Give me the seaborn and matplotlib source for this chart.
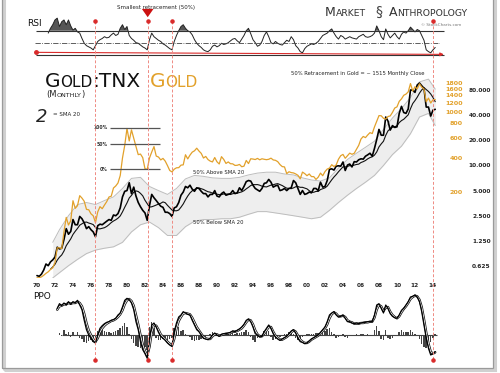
import numpy as np
import pandas as pd
import matplotlib
matplotlib.use('Agg')
import matplotlib.pyplot as plt
import seaborn as sns
from matplotlib.patches import Rectangle

nan = np.nan

# quarterly dates, 1970 Q1 .. 2014 Q2
quarters = np.arange(1970, 2014.5, 0.25)

# Gold:TNX ratio (quarterly)
ratio = [
    0.48, 0.47, 0.50, 0.56,  0.66, 0.63, 0.70, 0.74,  0.80, 1.05, 1.00, 1.02,
    1.30, 1.75, 1.50, 1.62,  2.25, 1.95, 1.95, 2.45,  2.30, 2.05, 1.75, 1.85,
    1.70, 1.60, 1.40, 1.90,  1.98, 1.95, 2.05, 2.15,  2.25, 2.20, 2.55, 2.50,
    2.65, 3.10, 4.20, 4.90,  5.00, 6.20, 4.60, 5.50,  4.30, 3.60, 3.20, 2.90,
    2.70, 2.20, 3.30, 4.50,  4.10, 3.80, 3.50, 3.25,  3.15, 2.75, 2.75, 2.65,
    2.45, 3.10, 3.20, 3.60,  4.40, 4.80, 5.60, 5.40,  5.80, 5.20, 4.90, 5.40,
    5.30, 4.90, 4.60, 4.60,  4.20, 4.50, 4.50, 5.00,  4.30, 4.20, 4.60, 4.80,
    4.40, 4.50, 4.60, 5.00,  4.60, 4.70, 5.40, 5.00,  5.60, 6.40, 6.60, 6.50,
    5.80, 5.30, 5.10, 4.90,  5.30, 6.10, 6.20, 6.80,  6.30, 5.50, 5.70, 5.80,
    5.00, 5.10, 5.30, 5.00,  5.30, 5.40, 6.60, 6.20,  5.30, 4.50, 5.00, 4.50,
    4.60, 4.80, 4.70, 5.30,  5.30, 5.00, 6.30, 5.50,  5.60, 6.60, 9.00, 9.10,
    8.80, 9.80, 9.90, 9.80,  11.0, 8.70, 10.1, 10.4,  9.60, 11.1, 11.0, 11.7,
    12.0, 11.9, 12.9, 13.4,  14.0, 12.9, 16.0, 20.5,  27.0, 23.0, 23.0, 38.0,
    34.0, 26.5, 30.0, 28.5,  29.0, 42.0, 51.0, 43.0,  42.0, 47.5, 80.0, 80.0,
    75.0, 92.0, 97.0, 90.0,  84.0, 50.0, 50.0, 39.0,  46.0, 47.0,
]

# gold monthly close, sampled quarterly
gold = [
    35.6, 35.6, 36.2, 37.4,  38.9, 40.1, 42.0, 43.5,  48.3, 65.0, 65.0, 64.0,
    90, 120, 103, 112,  168, 144, 152, 186,  177, 166, 141, 140,
    129, 124, 108, 134,  149, 143, 154, 165,  181, 184, 217, 226,
    240, 279, 397, 512,  720, 560, 700, 590,  500, 425, 430, 400,
    320, 316, 397, 448,  500, 413, 405, 382,  394, 373, 341, 309,
    300, 317, 326, 327,  344, 346, 424, 390,  421, 447, 459, 484,
    457, 436, 397, 410,  385, 373, 367, 401,  368, 352, 408, 386,
    356, 367, 354, 353,  342, 343, 349, 333,  337, 378, 355, 391,
    389, 385, 394, 383,  391, 387, 384, 387,  396, 382, 379, 369,
    348, 334, 332, 290,  301, 296, 294, 288,  280, 261, 299, 290,
    278, 288, 273, 273,  258, 270, 293, 278,  302, 318, 324, 347,
    334, 346, 388, 416,  427, 395, 416, 438,  428, 437, 473, 513,
    582, 613, 599, 632,  662, 650, 743, 834,  933, 930, 884, 869,
    916, 927, 996, 1087,  1113, 1244, 1307, 1405,  1439, 1506, 1780, 1531,
    1669, 1598, 1772, 1657,  1598, 1234, 1327, 1202,  1284, 1290,
]

rsi = [
    nan, nan, nan, nan,  nan, 66, 74, 80,  88, 91, 77, 85,
    88, 80, 88, 78,  71, 74, 68, 66,  57, 49, 45, 43,
    41, 38, 45, 52,  55, 57, 60, 58,  59, 63, 66, 62,
    64, 74, 80, 72,  77, 62, 57, 54,  50, 49, 46, 43,
    41, 38, 55, 66,  60, 57, 54, 52,  48, 46, 43, 40,
    38, 52, 62, 70,  77, 80, 74, 70,  68, 63, 55, 49,
    45, 42, 38, 36,  35, 38, 44, 46,  43, 45, 49, 47,
    48, 50, 53, 56,  57, 53, 50, 56,  62, 70, 74, 65,
    55, 50, 44, 46,  52, 62, 68, 60,  50, 48, 52, 49,
    47, 46, 50, 54,  52, 60, 55, 45,  41, 35, 33, 40,
    44, 46, 48, 47,  49, 52, 57, 62,  64, 66, 70, 73,
    66, 60, 56, 62,  60, 56, 58, 60,  58, 57, 56, 60,
    62, 64, 60, 59,  60, 62, 66, 78,  70, 60, 55, 73,
    64, 58, 62, 66,  60, 56, 64, 68,  66, 70, 76, 72,
    68, 72, 70, 62,  54, 38, 35, 33,  38, 42,
]

ppo = [
    nan, nan, nan, nan,  nan, nan, nan, nan,  nan, 40, 47, 44,
    48, 45, 50, 46,  50, 48, 52, 45,  38, 22, 8, 0,
    -5, -10, -12, 0,  10, 14, 17, 19,  20, 22, 23, 25,
    30, 33, 42, 52,  55, 53, 48, 38,  20, 8, -10, -22,
    -28, -35, -5, 15,  18, 12, 4, -2,  -5, -8, -12, -15,
    -17, 5, 18, 27,  30, 35, 33, 31,  30, 22, 15, 8,
    5, 0, -5, -6,  -7, -5, 0, 3,  0, -2, 1, 2,
    2, 3, 4, 6,  5, 7, 9, 12,  16, 22, 24, 20,
    12, 2, 0, -3,  -2, 5, 10, 15,  10, 2, -3, -6,
    -8, -6, -4, -2,  2, 6, 8, 3,  -5, -10, -11, -13,
    -12, -9, -6, -4,  -2, 0, 4, 8,  12, 20, 30, 33,
    35, 30, 27, 28,  30, 25, 20, 20,  18, 17, 18, 17,
    18, 19, 19, 20,  20, 20, 30, 45,  47, 40, 33, 45,
    40, 32, 28, 26,  25, 30, 37, 40,  45, 50, 57, 58,
    60, 57, 50, 35,  15, -5, -20, -30,  -28, -25,
]

ppo_signal = [
    nan, nan, nan, nan,  nan, nan, nan, nan,  nan, 38, 43, 44,
    46, 46, 48, 47,  48, 48, 50, 48,  43, 32, 18, 7,
    0, -6, -10, -5,  4, 10, 14, 17,  19, 21, 22, 24,
    27, 31, 37, 46,  52, 54, 51, 44,  30, 16, 0, -14,
    -24, -31, -18, 4,  14, 14, 8, 1,  -3, -6, -10, -13,
    -16, -6, 10, 21,  27, 32, 33, 32,  31, 26, 19, 12,
    7, 2, -3, -5,  -6, -6, -2, 1,  1, -1, 0, 1,
    2, 2, 3, 5,  5, 6, 8, 10,  14, 19, 23, 22,
    16, 7, 1, -2,  -2, 2, 7, 12,  12, 5, -1, -4,
    -7, -7, -5, -3,  0, 4, 7, 5,  -1, -7, -10, -12,
    -12, -10, -7, -5,  -3, -1, 2, 6,  10, 16, 25, 31,
    34, 32, 28, 28,  29, 27, 22, 20,  19, 17, 17, 17,
    18, 18, 19, 19,  20, 20, 26, 38,  45, 43, 36, 41,
    42, 35, 30, 27,  25, 28, 34, 39,  43, 48, 54, 57,
    59, 58, 53, 42,  24, 4, -13, -25,  -28, -26,
]

ppo_hist = [
    nan, nan, nan, nan,  nan, nan, nan, nan,  nan, nan, 3, -2,
    8, 2, 5, -3,  4, -2, 5, -4,  -6, -10, -12, -9,
    -8, -10, -4, 6,  8, 7, 6, 5,  4, 3, 4, 6,
    8, 10, 14, 18,  12, 2, -6, -12,  -16, -18, -20, -20,
    -18, -22, 12, 20,  10, -4, -8, -8,  -6, -5, -7, -6,
    -4, 10, 14, 12,  6, 8, 2, -2,  -3, -8, -9, -8,
    -7, -6, -6, -3,  -2, 1, 4, 3,  -2, -2, 2, 1,
    1, 2, 2, 3,  2, 3, 3, 4,  5, 8, 4, -3,
    -8, -10, -5, -3,  0, 6, 7, 6,  -3, -8, -6, -4,
    -3, 0, 2, 2,  4, 5, 2, -5,  -8, -6, -3, -1,
    1, 2, 2, 2,  3, 3, 4, 5,  6, 9, 10, 5,
    2, -4, -3, 0,  2, -3, -4, 0,  -1, 0, 1, 0,
    1, 1, 0, 1,  0, 0, 8, 14,  6, -6, -8, 8,
    -4, -6, -4, -2,  -1, 5, 7, 4,  5, 5, 8, 4,
    2, -2, -6, -14,  -18, -20, -18, -10,  -4, 2,
]

# envelope around the 20-month SMA
band_years = [1971.75] + [y + 0.5 for y in range(1972, 2014)] + [2014.25]
band_upper = [1.2, 1.7, 2.5, 3.4, 3.6, 3.4, 3.8, 4.2, 5.3, 7.0, 7.2, 5.6, 5.0, 4.5,
              5.3, 6.9, 7.6, 7.4, 7.1, 7.0, 7.0, 7.2, 7.7, 8.1, 8.3, 8.3, 7.9, 7.7,
              7.1, 6.7, 6.5, 7.1, 9.3, 11.8, 14.0, 16.5, 19.5, 27.0, 37.0, 48.0,
              65.0, 100.0, 108.0, 82.0]
band_lower = [0.45, 0.52, 0.63, 0.75, 0.88, 0.97, 1.02, 1.06, 1.2, 1.6, 1.95, 2.1,
              1.8, 1.45, 1.45, 1.85, 2.15, 2.25, 2.25, 2.3, 2.3, 2.4, 2.6, 2.8, 2.8,
              2.7, 2.6, 2.5, 2.4, 2.3, 2.4, 2.9, 3.6, 4.4, 5.3, 6.3, 7.6, 10.0, 13.5,
              17.0, 24.0, 38.0, 42.0, 30.0]

event_years = [1976.5, 1982.3, 1985.05, 2013.95]
retrace_labels = ['0%', '50%', '100%']
retrace_gold = [318, 525, 728]
rsi_trend_x = [1969.9, 2015.2]
rsi_trend_y = [33.8, 30.4]

ratio_ticks = [0.625, 1.25, 2.5, 5, 10, 20, 40, 80]
gold_ticks = [200, 400, 600, 800, 1000, 1200, 1400, 1600, 1800]
year_ticks = list(range(1970, 2015, 2))

GOLD = '#E2A12B'
RED = '#d92b2b'

# 20 month simple moving average ~ 7 quarters
sma = pd.Series(ratio).rolling(7).mean().values

sns.set_theme(style='white')
plt.rcParams['font.family'] = ['DejaVu Sans']

W, H = 500, 373
fig = plt.figure(figsize=(W / 100, H / 100), dpi=100)
renderer = fig.canvas.get_renderer()


def fx(px):
    return px / W


def fy(py):
    return 1 - py / H


XLIM = (1969.78, 2014.78)
L, WID = fx(35), 405 / W

ax_rsi = fig.add_axes([L, fy(60), WID, 48 / H])
ax = fig.add_axes([L, fy(278), WID, 210 / H])
ax_ppo = fig.add_axes([L, fy(362), WID, 72 / H])
ax_gold = ax.twinx()
ax_ov = fig.add_axes([L, 0, WID, 1])
ax_ov.set_xlim(XLIM)
ax_ov.set_ylim(H, 0)
ax_ov.axis('off')
ax_ov.set_zorder(5)

for a in (ax_rsi, ax, ax_ppo, ax_gold):
    a.set_xlim(XLIM)
    for s in a.spines.values():
        s.set_visible(False)
    a.tick_params(length=0)

# ---- RSI panel
rsi_arr = np.array(rsi, dtype=float)
ax_rsi.fill_between(quarters, rsi_arr, 70, where=np.nan_to_num(rsi_arr) > 70,
                    interpolate=True, color='#555555', lw=0)
sns.lineplot(x=quarters, y=rsi_arr, ax=ax_rsi, color='#222222', linewidth=0.7)
ax_rsi.hlines([30, 70], 1969.9, 2015.2, color='#333333', lw=0.8, clip_on=False)
ax_rsi.axhline(50, color='#444444', lw=0.6, ls='-.')
ax_rsi.annotate('', xy=(rsi_trend_x[1], rsi_trend_y[1]), xytext=(rsi_trend_x[0], rsi_trend_y[0]),
                arrowprops=dict(arrowstyle='-|>', color=RED, lw=0.8, mutation_scale=5,
                                shrinkA=0, shrinkB=0), annotation_clip=False)
ax_rsi.plot(rsi_trend_x[0], rsi_trend_y[0], 'o', color=RED, ms=2.5, clip_on=False)
ax_rsi.set_ylim(21, 101.3)
ax_rsi.set_xticks([])
ax_rsi.set_yticks([])
ax_rsi.set_ylabel('')

# ---- main panel: Gold:TNX
ax.fill_between(band_years, band_lower, band_upper, color='#eeeeee', lw=0)
sns.lineplot(x=band_years, y=band_upper, ax=ax, color='#bdbdbd', linewidth=0.7)
sns.lineplot(x=band_years, y=band_lower, ax=ax, color='#bdbdbd', linewidth=0.7)
sns.lineplot(x=quarters, y=sma, ax=ax, color='#111111', linewidth=0.8)
sns.lineplot(x=quarters, y=ratio, ax=ax, color='#000000', linewidth=1.2)
ax.set_yscale('log', base=2)
ax.set_ylim(0.449, 146.8)
ax.set_xlim(XLIM)
ax.yaxis.tick_right()
ax.set_yticks(ratio_ticks)
ax.set_yticklabels([f'{v:.3f}' for v in ratio_ticks])
ax.minorticks_off()
ax.tick_params(axis='y', labelsize=4.2, pad=36.5, length=0)
for lab in ax.get_yticklabels():
    lab.set_ha('right')
    lab.set_fontweight('bold')
ax.set_xticks(year_ticks)
ax.set_xticklabels([f'{y % 100:02d}' for y in year_ticks])
ax.tick_params(axis='x', labelsize=4.2, pad=3.5, length=0)
for lab in ax.get_xticklabels():
    lab.set_fontweight('bold')
ax.set_ylabel('')

sns.lineplot(x=quarters, y=gold, ax=ax_gold, color=GOLD, linewidth=0.9)
ax_gold.set_yscale('log')
ax_gold.set_ylim(35.4, 2435)
ax_gold.set_yticks(gold_ticks)
ax_gold.set_yticklabels([str(v) for v in gold_ticks])
ax_gold.minorticks_off()
ax_gold.tick_params(axis='y', labelsize=4.6, pad=16.5, length=0, labelcolor=GOLD)
for lab in ax_gold.get_yticklabels():
    lab.set_ha('right')
    lab.set_fontweight('bold')
ax_gold.set_ylabel('')
ax_gold.hlines(retrace_gold, 1978.1, 1983.7, color='#555555', lw=0.9)
for lvl, lab in zip(retrace_gold, retrace_labels):
    ax_gold.text(1977.9, lvl, lab, ha='right', va='center', fontsize=3.3,
                 fontweight='bold', color='#333333')

# ---- PPO panel
hist_arr = np.array(ppo_hist, dtype=float)
ax_ppo.bar(quarters, np.nan_to_num(hist_arr), width=0.17, color='#444444', lw=0)
ax_ppo.hlines(0, 1972.75, 2014.4, color='#444444', lw=0.8)
sns.lineplot(x=quarters, y=ppo_signal, ax=ax_ppo, color='#111111', linewidth=1.7)
sns.lineplot(x=quarters, y=ppo_signal, ax=ax_ppo, color='#ffffff', linewidth=0.6)
sns.lineplot(x=quarters, y=ppo, ax=ax_ppo, color='#000000', linewidth=0.9)
ax_ppo.set_ylim(-40.5, 67.5)
ax_ppo.set_xticks([])
ax_ppo.set_yticks([])
ax_ppo.set_ylabel('')

# ---- event lines across all panels
ax_ov.vlines(event_years, 21, 360, colors='#ef8a82', linestyles=(0, (3, 2)), lw=0.7)
ax_ov.scatter(event_years, [21] * len(event_years), s=5, color=RED, zorder=6)
ax_ov.scatter(event_years, [360] * len(event_years), s=5, color=RED, zorder=6)
ax_ov.annotate('', xy=(event_years[1], 20), xytext=(event_years[1], 11),
               arrowprops=dict(arrowstyle='simple,head_width=0.7,head_length=0.5,tail_width=0.35',
                               color='#cc1111', lw=0))


def small_caps(x, y, text, size, color, ratio_small=0.76):
    # capitals at full size, lower case drawn as smaller capitals
    runs = []
    for ch in text:
        big = not ch.islower()
        if runs and runs[-1][1] == big:
            runs[-1][0] += ch
        else:
            runs.append([ch, big])
    cur = x
    for chunk, big in runs:
        s = size if big else size * ratio_small
        t = fig.text(fx(cur), fy(y), chunk.upper(), fontsize=s, color=color,
                     va='baseline', ha='left')
        cur += t.get_window_extent(renderer).width


small_caps(45, 87, 'Gold:TNX', 14.5, '#111111')
small_caps(150, 87, 'Gold', 14.5, GOLD)
small_caps(46, 97, '(Monthly)', 6, '#222222')
small_caps(325, 16, 'Market', 9, '#333333', 0.74)
small_caps(389, 16, 'Anthropology', 9, '#333333', 0.74)
fig.text(fx(379), fy(16), '§', fontsize=10, color='#444444', ha='center', va='baseline')

fig.text(fx(27), fy(26), 'RSI', fontsize=6.5, color='#111111', va='baseline')
fig.text(fx(33), fy(299), 'PPO', fontsize=6.5, color='#111111', va='baseline')
fig.text(fx(156), fy(7), 'Smallest retracement (50%)', fontsize=4, color='#222222',
         ha='center', va='center')
fig.text(fx(441), fy(25), '© StockCharts.com', fontsize=3, color='#777777',
         ha='center', va='center')
fig.text(fx(358), fy(73), '50% Retracement in Gold = ~ 1515 Monthly Close', fontsize=3.8,
         color='#222222', ha='center', va='center')
fig.text(fx(193), fy(172), '50% Above SMA 20', fontsize=3.8, color='#222222', va='center')
fig.text(fx(193), fy(223), '50% Below SMA 20', fontsize=3.8, color='#222222', va='center')
fig.text(fx(53), fy(114.5), '= SMA 20', fontsize=4, color='#222222', va='center')
fig.text(fx(42), fy(117), '2', fontsize=13, color='#222222', style='italic',
         ha='center', va='center')

# frame with a soft shadow
fig.patches.append(Rectangle((fx(4), fy(370)), fx(491), 1.02, transform=fig.transFigure,
                             fill=False, ec='#d0d0d0', lw=2.2))
fig.patches.append(Rectangle((fx(2), fy(368)), fx(491), 1.02, transform=fig.transFigure,
                             fill=False, ec='#9a9a9a', lw=0.9))

fig.savefig('out.png', dpi=100)
